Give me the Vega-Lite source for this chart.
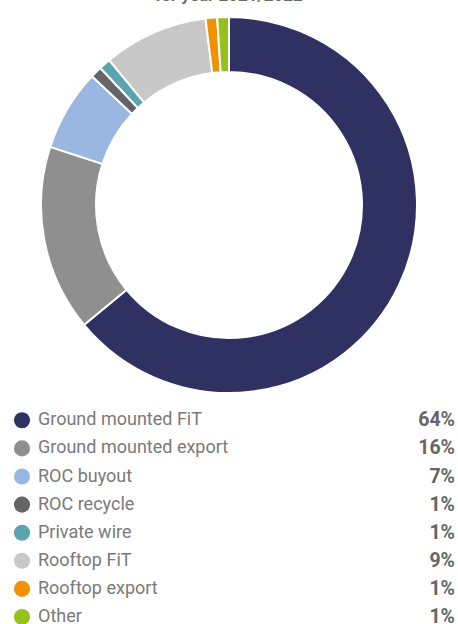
{
  "$schema": "https://vega.github.io/schema/vega-lite/v6.json",
  "padding": {"top": -13, "left": 0, "right": 0, "bottom": 0},
  "autosize": {"type": "pad"},
  "background": "white",
  "title": {"text": "for year 2021/2022", "fontSize": 17, "font": "Roboto", "fontWeight": "bold", "color": "#6b6b6b", "anchor": "middle", "offset": -5},
  "datasets": {
    "shares": [
      {"order": 1, "category": "Ground mounted FiT", "share": 64, "label": "64%"},
      {"order": 2, "category": "Ground mounted export", "share": 16, "label": "16%"},
      {"order": 3, "category": "ROC buyout", "share": 7, "label": "7%"},
      {"order": 4, "category": "ROC recycle", "share": 1, "label": "1%"},
      {"order": 5, "category": "Private wire", "share": 1, "label": "1%"},
      {"order": 6, "category": "Rooftop FiT", "share": 9, "label": "9%"},
      {"order": 7, "category": "Rooftop export", "share": 1, "label": "1%"},
      {"order": 8, "category": "Other", "share": 1, "label": "1%"}
    ]
  },
  "spacing": 0,
  "config": {"view": {"stroke": null}},
  "vconcat": [
    {
      "width": 458,
      "height": 410,
      "data": {"name": "shares"},
      "mark": {"type": "arc", "radius": 188, "radius2": 133, "stroke": "white", "strokeWidth": 2},
      "encoding": {
        "theta": {"field": "share", "type": "quantitative", "stack": true},
        "order": {"field": "order", "type": "quantitative"},
        "color": {
          "field": "category", "type": "nominal", "legend": null,
          "scale": {
            "domain": ["Ground mounted FiT", "Ground mounted export", "ROC buyout", "ROC recycle", "Private wire", "Rooftop FiT", "Rooftop export", "Other"],
            "range": ["#303163", "#8f8f8f", "#9ab7e2", "#646469", "#5ca3b0", "#c8c8c8", "#f39200", "#95c11f"]
          }
        }
      }
    },
    {
      "width": 458,
      "height": 201.3,
      "data": {"name": "shares"},
      "encoding": {
        "y": {"field": "order", "type": "ordinal", "axis": null, "scale": {"type": "point", "padding": 0.082}}
      },
      "layer": [
        {
          "mark": {"type": "point", "filled": true, "size": 260, "opacity": 1},
          "encoding": {
            "x": {"datum": 22, "type": "quantitative", "scale": {"domain": [0, 458], "range": [0, 458], "nice": false, "zero": false}, "axis": null},
            "color": {"field": "category", "type": "nominal", "legend": null}
          }
        },
        {
          "mark": {"type": "text", "align": "left", "baseline": "middle", "font": "Roboto", "fontSize": 18, "color": "#7a7a7a"},
          "encoding": {
            "x": {"datum": 38, "type": "quantitative", "scale": {"domain": [0, 458], "range": [0, 458], "nice": false, "zero": false}, "axis": null},
            "text": {"field": "category"}
          }
        },
        {
          "mark": {"type": "text", "align": "right", "baseline": "middle", "font": "Roboto", "fontSize": 19.5, "fontWeight": "bold", "color": "#666666"},
          "encoding": {
            "x": {"datum": 455, "type": "quantitative", "scale": {"domain": [0, 458], "range": [0, 458], "nice": false, "zero": false}, "axis": null},
            "text": {"field": "label"}
          }
        }
      ]
    }
  ]
}
